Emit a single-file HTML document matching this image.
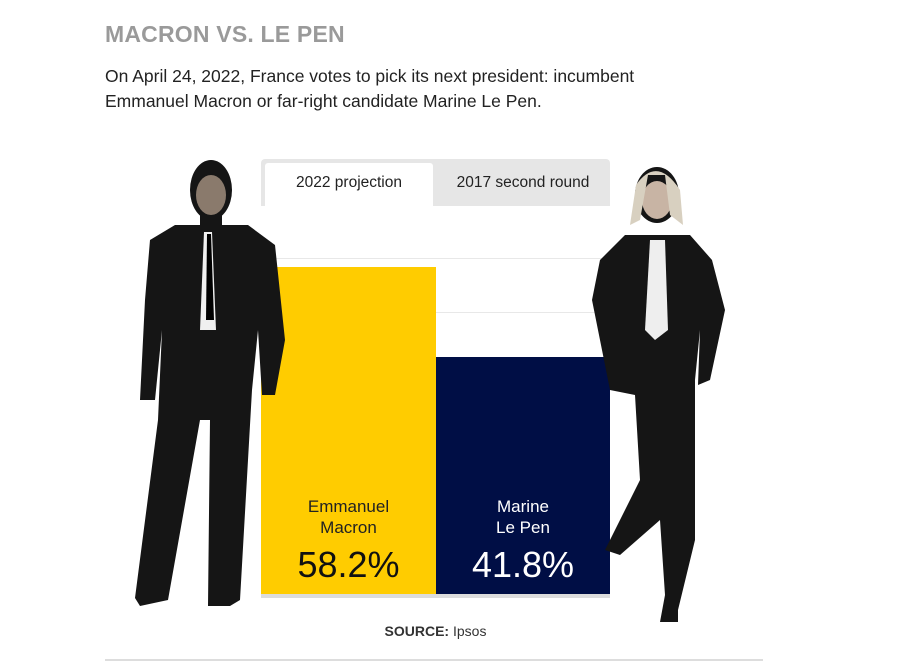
<!DOCTYPE html>
<html><head><meta charset="utf-8"><style>
body{margin:0;width:914px;height:670px;background:#fff;font-family:"Liberation Sans",sans-serif;position:relative;overflow:hidden}
.a{position:absolute}
</style></head><body>
<div class="a" style="left:105px;top:21px;font-size:23px;font-weight:bold;color:#9a9a9a;letter-spacing:0.2px">MACRON VS. LE PEN</div>
<div class="a" style="left:105px;top:64px;font-size:17.5px;line-height:25px;color:#222">On April 24, 2022, France votes to pick its next president: incumbent<br>Emmanuel Macron or far-right candidate Marine Le Pen.</div>
<div class="a" style="left:261px;top:159px;width:349px;height:47px;background:#e6e6e6;border-radius:4px 4px 0 0"></div>
<div class="a" style="left:265px;top:163px;width:168px;height:43px;background:#fff;border-radius:3px 3px 0 0;text-align:center;line-height:40px;font-size:15.5px;color:#222">2022 projection</div>
<div class="a" style="left:436px;top:163px;width:174px;height:43px;text-align:center;line-height:40px;font-size:15.5px;color:#222">2017 second round</div>
<div class="a" style="left:261px;top:258px;width:349px;height:1px;background:#e8e8e8"></div>
<div class="a" style="left:261px;top:312px;width:349px;height:1px;background:#e8e8e8"></div>
<div class="a" style="left:261px;top:267px;width:175px;height:327px;background:#ffcc00"></div>
<div class="a" style="left:436px;top:357px;width:174px;height:237px;background:#000e45"></div>
<div class="a" style="left:261px;top:594px;width:349px;height:4px;background:#dcdcdc"></div>
<div class="a" style="left:261px;top:496px;width:175px;text-align:center;font-size:17px;line-height:21px;color:#222">Emmanuel<br>Macron</div>
<div class="a" style="left:261px;top:544px;width:175px;text-align:center;font-size:36px;color:#111">58.2%</div>
<div class="a" style="left:436px;top:496px;width:174px;text-align:center;font-size:17px;line-height:21px;color:#fff">Marine<br>Le Pen</div>
<div class="a" style="left:436px;top:544px;width:174px;text-align:center;font-size:36px;color:#fff">41.8%</div>
<div class="a" style="left:261px;top:623px;width:349px;text-align:center;font-size:14px;color:#333"><b>SOURCE:</b> Ipsos</div>
<div class="a" style="left:105px;top:659px;width:658px;height:2px;background:#ddd"></div>
<svg class="a" style="left:0;top:0" width="914" height="670">
<g fill="#151515">
<ellipse cx="211" cy="190" rx="21" ry="30"/>
<rect x="200" y="212" width="22" height="18"/>
<path d="M175 225 L248 225 L275 245 L285 340 L275 395 L262 395 L258 330 L252 390 L240 600 L230 606 L208 606 L210 420 L200 420 L168 600 L140 606 L135 598 L158 420 L162 330 L155 400 L140 400 L145 300 L150 240 Z"/>
<ellipse cx="657" cy="195" rx="22" ry="28"/>
<path d="M625 235 L690 235 L712 260 L725 310 L710 380 L698 385 L700 330 L695 380 L695 540 L678 610 L678 622 L660 622 L665 595 L660 520 L620 555 L605 550 L640 480 L635 395 L610 390 L592 300 L600 260 Z"/>
</g>
<path d="M204 232 L212 232 L216 330 L200 330 Z" fill="#f0f0f0"/>
<path d="M207 234 L211 234 L214 320 L206 320 Z" fill="#000"/>
<path d="M650 240 L665 240 L668 330 L655 340 L645 330 Z" fill="#eee"/>
<ellipse cx="211" cy="195" rx="15" ry="20" fill="#8a7a6c"/>
<ellipse cx="657" cy="200" rx="15" ry="19" fill="#c8b4a4"/>
<path d="M636 185 Q657 155 680 190 L683 225 L670 215 L665 175 L648 175 L640 220 L630 225 Z" fill="#d8d0c0"/>
</svg>
</body></html>
